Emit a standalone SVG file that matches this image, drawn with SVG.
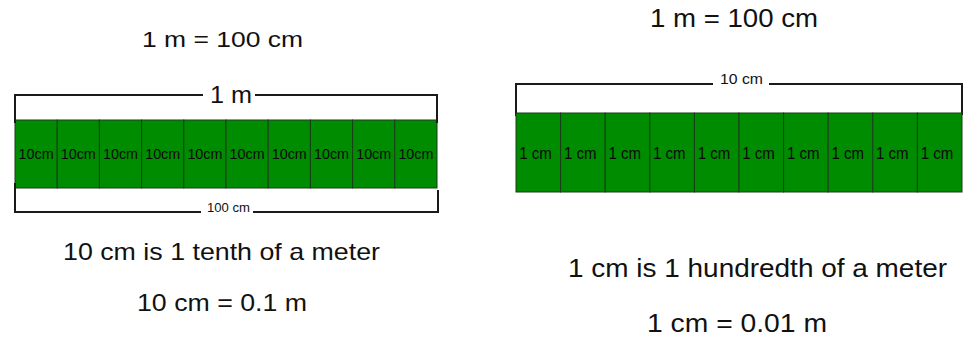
<svg xmlns="http://www.w3.org/2000/svg" width="978" height="337" viewBox="0 0 978 337">
  <style>
    text { font-family: "Liberation Sans", Arial, sans-serif; fill: #111; }
    .cell { fill: #008c00; stroke: #1b3d1b; stroke-width: 1; }
    .bracket { fill: none; stroke: #1a1a1a; stroke-width: 2; }
    .c10 { font-size: 15px; text-anchor: middle; fill: #0a0a0a; }
    .c1 { font-size: 16.5px; fill: #0a0a0a; }
  </style>
  <rect width="978" height="337" fill="#ffffff"/>

  <!-- Left: metre split into ten 10 cm pieces -->
  <g id="left-title">
    <text x="142" y="47" font-size="22" textLength="161" lengthAdjust="spacingAndGlyphs">1 m = 100 cm</text>
  </g>

  <g id="left-bar">
    <rect class="cell" x="15" y="120" width="42.2" height="68"/>
    <rect class="cell" x="57.2" y="120" width="42.2" height="68"/>
    <rect class="cell" x="99.4" y="120" width="42.2" height="68"/>
    <rect class="cell" x="141.6" y="120" width="42.2" height="68"/>
    <rect class="cell" x="183.8" y="120" width="42.2" height="68"/>
    <rect class="cell" x="226" y="120" width="42.2" height="68"/>
    <rect class="cell" x="268.2" y="120" width="42.2" height="68"/>
    <rect class="cell" x="310.4" y="120" width="42.2" height="68"/>
    <rect class="cell" x="352.6" y="120" width="42.2" height="68"/>
    <rect class="cell" x="394.8" y="120" width="42.2" height="68"/>
    <text class="c10" x="36.1" y="158.5" textLength="35" lengthAdjust="spacingAndGlyphs">10cm</text>
    <text class="c10" x="78.3" y="158.5" textLength="35" lengthAdjust="spacingAndGlyphs">10cm</text>
    <text class="c10" x="120.5" y="158.5" textLength="35" lengthAdjust="spacingAndGlyphs">10cm</text>
    <text class="c10" x="162.7" y="158.5" textLength="35" lengthAdjust="spacingAndGlyphs">10cm</text>
    <text class="c10" x="204.9" y="158.5" textLength="35" lengthAdjust="spacingAndGlyphs">10cm</text>
    <text class="c10" x="247.1" y="158.5" textLength="35" lengthAdjust="spacingAndGlyphs">10cm</text>
    <text class="c10" x="289.3" y="158.5" textLength="35" lengthAdjust="spacingAndGlyphs">10cm</text>
    <text class="c10" x="331.5" y="158.5" textLength="35" lengthAdjust="spacingAndGlyphs">10cm</text>
    <text class="c10" x="373.7" y="158.5" textLength="35" lengthAdjust="spacingAndGlyphs">10cm</text>
    <text class="c10" x="415.9" y="158.5" textLength="35" lengthAdjust="spacingAndGlyphs">10cm</text>
  </g>

  <g id="connectors">
    <!-- top bracket of the left bar -->
    <path class="bracket" d="M15,123 V95 H203 M255,95 H437 V123"/>
    <!-- bottom bracket of the left bar -->
    <path class="bracket" d="M15,183 V212 H201 M253,212 H438 V190"/>
    <!-- top bracket of the right bar -->
    <path class="bracket" d="M516,116 V84 H713 M769,84 H962 V115"/>
  </g>

  <g id="left-top-label">
    <text x="210" y="103" font-size="23" textLength="42" lengthAdjust="spacingAndGlyphs">1 m</text>
  </g>
  <g id="left-bottom-label">
    <text x="207" y="212" font-size="13" textLength="43" lengthAdjust="spacingAndGlyphs">100 cm</text>
  </g>

  <g id="left-notes">
    <text x="63" y="260" font-size="24" textLength="317" lengthAdjust="spacingAndGlyphs">10 cm is 1 tenth of a meter</text>
    <text x="137" y="311" font-size="24" textLength="170" lengthAdjust="spacingAndGlyphs">10 cm = 0.1 m</text>
  </g>

  <!-- Right: ten 1 cm pieces making 10 cm -->
  <g id="right-title">
    <text x="650" y="27" font-size="25" textLength="168" lengthAdjust="spacingAndGlyphs">1 m = 100 cm</text>
  </g>

  <g id="right-label">
    <text x="720" y="84" font-size="14" textLength="43" lengthAdjust="spacingAndGlyphs">10 cm</text>
  </g>

  <g id="right-bar">
    <rect class="cell" x="516" y="113" width="44.6" height="79"/>
    <rect class="cell" x="560.6" y="113" width="44.6" height="79"/>
    <rect class="cell" x="605.2" y="113" width="44.6" height="79"/>
    <rect class="cell" x="649.8" y="113" width="44.6" height="79"/>
    <rect class="cell" x="694.4" y="113" width="44.6" height="79"/>
    <rect class="cell" x="739" y="113" width="44.6" height="79"/>
    <rect class="cell" x="783.6" y="113" width="44.6" height="79"/>
    <rect class="cell" x="828.2" y="113" width="44.6" height="79"/>
    <rect class="cell" x="872.8" y="113" width="44.6" height="79"/>
    <rect class="cell" x="917.4" y="113" width="44.6" height="79"/>
    <text class="c1" x="519.3" y="159" textLength="32.5" lengthAdjust="spacingAndGlyphs">1 cm</text>
    <text class="c1" x="563.9" y="159" textLength="32.5" lengthAdjust="spacingAndGlyphs">1 cm</text>
    <text class="c1" x="608.5" y="159" textLength="32.5" lengthAdjust="spacingAndGlyphs">1 cm</text>
    <text class="c1" x="653.1" y="159" textLength="32.5" lengthAdjust="spacingAndGlyphs">1 cm</text>
    <text class="c1" x="697.7" y="159" textLength="32.5" lengthAdjust="spacingAndGlyphs">1 cm</text>
    <text class="c1" x="742.3" y="159" textLength="32.5" lengthAdjust="spacingAndGlyphs">1 cm</text>
    <text class="c1" x="786.9" y="159" textLength="32.5" lengthAdjust="spacingAndGlyphs">1 cm</text>
    <text class="c1" x="831.5" y="159" textLength="32.5" lengthAdjust="spacingAndGlyphs">1 cm</text>
    <text class="c1" x="876.1" y="159" textLength="32.5" lengthAdjust="spacingAndGlyphs">1 cm</text>
    <text class="c1" x="920.7" y="159" textLength="32.5" lengthAdjust="spacingAndGlyphs">1 cm</text>
  </g>

  <g id="right-notes">
    <text x="568" y="277" font-size="26" textLength="379" lengthAdjust="spacingAndGlyphs">1 cm is 1 hundredth of a meter</text>
    <text x="647" y="332" font-size="26" textLength="180" lengthAdjust="spacingAndGlyphs">1 cm = 0.01 m</text>
  </g>
</svg>
